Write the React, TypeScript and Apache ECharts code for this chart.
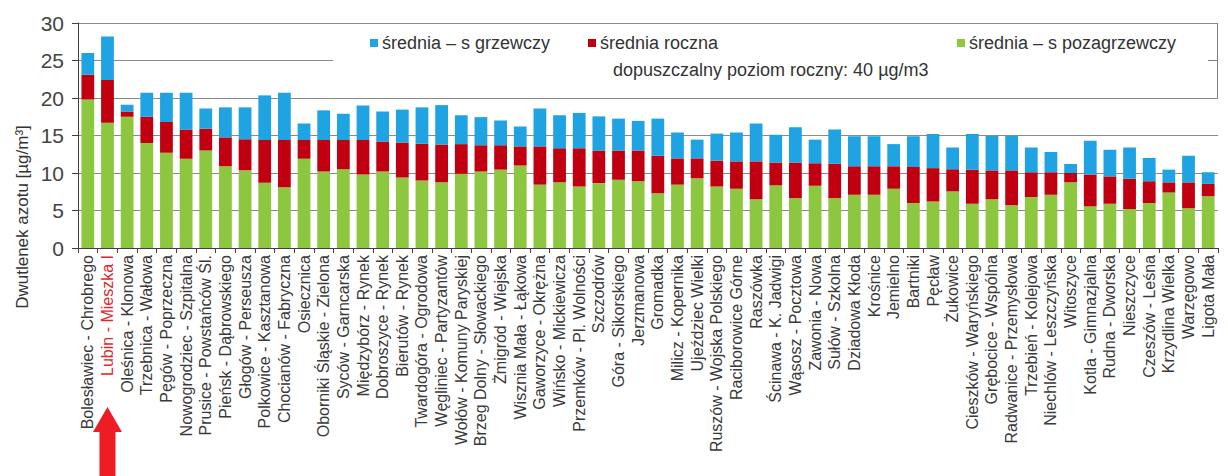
import React, { useEffect, useRef } from "react";
import * as echarts from "echarts";

const categories = [
  "Bolesławiec - Chrobrego",
  "Lubin - Mieszka I",
  "Oleśnica - Klonowa",
  "Trzebnica - Wałowa",
  "Pęgów - Poprzeczna",
  "Nowogrodziec - Szpitalna",
  "Prusice - Powstańców Śl.",
  "Pieńsk - Dąbrowskiego",
  "Głogów - Perseusza",
  "Polkowice - Kasztanowa",
  "Chocianów - Fabryczna",
  "Osiecznica",
  "Oborniki Śląskie - Zielona",
  "Syców - Garncarska",
  "Międzybórz - Rynek",
  "Dobroszyce - Rynek",
  "Bierutów - Rynek",
  "Twardogóra - Ogrodowa",
  "Węgliniec - Partyzantów",
  "Wołów - Komuny Paryskiej",
  "Brzeg Dolny - Słowackiego",
  "Żmigród - Wiejska",
  "Wisznia Mała - Łąkowa",
  "Gaworzyce - Okrężna",
  "Wińsko - Mickiewicza",
  "Przemków - Pl. Wolności",
  "Szczodrów",
  "Góra - Sikorskiego",
  "Jerzmanowa",
  "Gromadka",
  "Milicz - Kopernika",
  "Ujeździec Wielki",
  "Ruszów - Wojska Polskiego",
  "Raciborowice Górne",
  "Raszówka",
  "Ścinawa - K. Jadwigi",
  "Wąsosz - Pocztowa",
  "Zawonia - Nowa",
  "Sułów - Szkolna",
  "Dziadowa Kłoda",
  "Krośnice",
  "Jemielno",
  "Bartniki",
  "Pęcław",
  "Żukowice",
  "Cieszków - Waryńskiego",
  "Grębocice - Wspólna",
  "Radwanice - Przemysłowa",
  "Trzebień - Kolejowa",
  "Niechlów - Leszczyńska",
  "Witoszyce",
  "Kotla - Gimnazjalna",
  "Rudna - Dworska",
  "Nieszczyce",
  "Czeszów - Leśna",
  "Krzydlina Wielka",
  "Warzęgowo",
  "Ligota Mała",
];

// średnia – sezon grzewczy (top of blue)
const heatingAvg = [
  26.0, 28.2, 19.1, 20.7, 20.7, 20.7, 18.6, 18.75, 18.75, 20.35,
  20.7, 16.6, 18.35, 17.9, 19.0, 18.2, 18.45, 18.75, 19.05, 17.7,
  17.45, 17.0, 16.2, 18.6, 17.7, 18.0, 17.55, 17.25, 16.95, 17.25,
  15.4, 14.45, 15.25, 15.4, 16.6, 15.1, 16.1, 14.45, 15.8, 14.9,
  14.9, 13.85, 14.9, 15.2, 13.4, 15.2, 14.95, 14.95, 13.4, 12.8,
  11.2, 14.3, 13.1, 13.4, 12.0, 10.45, 12.3, 10.1,
];

// średnia roczna (top of red)
const annualAvg = [
  23.1, 22.4, 18.2, 17.5, 16.8, 15.8, 15.9, 14.75, 14.5, 14.4,
  14.4, 14.4, 14.4, 14.4, 14.4, 14.2, 14.05, 13.9, 13.8, 13.85,
  13.7, 13.7, 13.55, 13.55, 13.3, 13.3, 13.0, 13.0, 13.0, 12.3,
  11.95, 11.95, 11.65, 11.55, 11.55, 11.4, 11.4, 11.3, 11.25, 10.9,
  10.9, 10.9, 10.8, 10.65, 10.5, 10.45, 10.35, 10.35, 10.1, 10.1,
  10.0, 9.8, 9.55, 9.25, 8.9, 8.75, 8.75, 8.55,
];

// średnia – sezon pozagrzewczy (top of green)
const nonHeatingAvg = [
  19.8, 16.7, 17.5, 14.0, 12.7, 11.9, 13.0, 10.9, 10.35, 8.7,
  8.1, 11.9, 10.2, 10.5, 9.8, 10.2, 9.4, 9.0, 8.75, 9.9,
  10.2, 10.45, 11.0, 8.45, 8.75, 8.2, 8.65, 9.1, 8.9, 7.3,
  8.45, 9.3, 8.2, 7.9, 6.5, 8.35, 6.65, 8.3, 6.65, 7.1,
  7.1, 7.9, 6.0, 6.2, 7.55, 5.9, 6.5, 5.7, 6.8, 7.1,
  8.75, 5.55, 5.9, 5.2, 6.0, 7.4, 5.3, 6.9,
];

const yTicks = [0, 5, 10, 15, 20, 25, 30];

const NAME_HEAT = "średnia – s grzewczy";
const NAME_YEAR = "średnia roczna";
const NAME_NONHEAT = "średnia – s pozagrzewczy";
const LIMIT_TEXT = "dopuszczalny poziom roczny: 40 µg/m3";
const Y_TITLE = "Dwutlenek azotu [µg/m³]";
const HIGHLIGHT = "Lubin - Mieszka I";

const W = 1228;
const H = 476;
const GRID = { left: 78, right: 10, top: 23, bottom: 228 };
const FONT = "'Liberation Sans', Arial, sans-serif";

export default function App() {
  const ref = useRef<HTMLDivElement>(null);

  useEffect(() => {
    if (!ref.current) return;
    const chart = echarts.init(ref.current, undefined, { renderer: "svg" });

    const yMin = yTicks[0];
    const yMax = yTicks[yTicks.length - 1];
    const plotW = W - GRID.left - GRID.right;
    const plotH = H - GRID.top - GRID.bottom;
    const yPix = (v: number) => GRID.top + ((yMax - v) / (yMax - yMin)) * plotH;
    const catCenter = (i: number) => GRID.left + ((i + 0.5) * plotW) / categories.length;
    const hi = categories.indexOf(HIGHLIGHT);
    const ax = catCenter(hi);
    const right = W - GRID.right;

    const redPart = annualAvg.map((v, i) => +(v - nonHeatingAvg[i]).toFixed(2));
    const bluePart = heatingAvg.map((v, i) => +(v - annualAvg[i]).toFixed(2));

    const legendBase = {
      orient: "horizontal",
      top: 34,
      padding: 0,
      itemWidth: 8,
      itemHeight: 8,
      itemGap: 5,
      icon: "rect",
      selectedMode: false,
      textStyle: { fontSize: 18, color: "#333", fontFamily: FONT, padding: [0, 0, 0, -1] },
    };

    chart.setOption({
      animation: false,
      textStyle: { fontFamily: FONT },
      grid: { left: GRID.left, right: GRID.right, top: GRID.top, bottom: GRID.bottom, containLabel: false },
      legend: [
        { ...legendBase, left: 370, data: [NAME_HEAT] },
        { ...legendBase, left: 588, data: [NAME_YEAR] },
        { ...legendBase, left: 957, data: [NAME_NONHEAT] },
      ],
      xAxis: {
        type: "category",
        data: categories,
        boundaryGap: true,
        axisLine: { show: true, lineStyle: { color: "#404040", width: 1 } },
        axisTick: { show: true, interval: 0, length: 5, lineStyle: { color: "#404040" } },
        axisLabel: {
          interval: 0,
          rotate: 90,
          margin: 7,
          fontSize: 16,
          fontFamily: FONT,
          color: (value: string) => (value === HIGHLIGHT ? "#e3262e" : "#3a3a3a"),
        },
        splitLine: { show: false },
      },
      yAxis: {
        type: "value",
        min: yMin,
        max: yMax,
        interval: 5,
        axisLine: { show: true, lineStyle: { color: "#404040", width: 1 } },
        axisTick: { show: true, length: 6, lineStyle: { color: "#404040" } },
        axisLabel: { fontSize: 21, color: "#444", margin: 14, fontFamily: FONT },
        splitLine: { show: true, lineStyle: { color: "#8a8a8a", width: 1 } },
      },
      series: [
        {
          name: NAME_NONHEAT,
          type: "bar",
          stack: "no2",
          data: nonHeatingAvg,
          barWidth: "65%",
          itemStyle: { color: "#8dc63f" },
        },
        {
          name: NAME_YEAR,
          type: "bar",
          stack: "no2",
          data: redPart,
          barWidth: "65%",
          itemStyle: { color: "#c00010" },
        },
        {
          name: NAME_HEAT,
          type: "bar",
          stack: "no2",
          data: bluePart,
          barWidth: "65%",
          itemStyle: { color: "#1fa3e2" },
        },
      ],
      graphic: [
        {
          type: "rect",
          z: 1,
          silent: true,
          shape: { x: 333, y: yPix(30) + 1, width: right - 333, height: yPix(20) - yPix(30) - 2 },
          style: { fill: "#ffffff" },
        },
        {
          type: "line",
          z: 3,
          silent: true,
          shape: { x1: right - 0.5, y1: yPix(30), x2: right - 0.5, y2: yPix(20) },
          style: { stroke: "#808080", lineWidth: 1 },
        },
        {
          type: "line",
          z: 3,
          silent: true,
          shape: { x1: right - 10, y1: yPix(25), x2: right, y2: yPix(25) },
          style: { stroke: "#808080", lineWidth: 1 },
        },
        {
          type: "text",
          z: 5,
          x: 613,
          y: 70,
          style: {
            text: LIMIT_TEXT,
            fontSize: 18,
            fontFamily: FONT,
            fill: "#333",
            align: "left",
            verticalAlign: "middle",
          },
        },
        {
          type: "text",
          z: 5,
          x: 22,
          y: 217,
          rotation: Math.PI / 2,
          style: {
            text: Y_TITLE,
            fontSize: 17,
            fontFamily: FONT,
            fill: "#333",
            align: "center",
            verticalAlign: "middle",
          },
        },
        {
          type: "polygon",
          z: 5,
          silent: true,
          shape: {
            points: [
              [ax, 407],
              [ax + 14.5, 432],
              [ax + 8, 432],
              [ax + 8, H],
              [ax - 8, H],
              [ax - 8, 432],
              [ax - 14.5, 432],
            ],
          },
          style: { fill: "#ee1c24" },
        },
      ],
    });

    return () => chart.dispose();
  }, []);

  return (
    <div
      ref={ref}
      style={{ position: "fixed", left: 0, top: 0, width: W, height: H, background: "#fff" }}
    />
  );
}
